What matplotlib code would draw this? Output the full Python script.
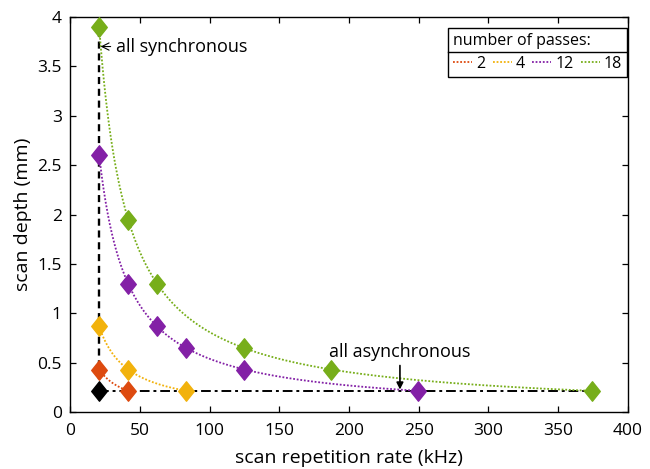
import numpy as np
import matplotlib.pyplot as plt
from matplotlib.path import Path
from matplotlib.lines import Line2D

plt.rcParams['font.family'] = ['Open Sans', 'DejaVu Sans']

# scan repetition rate (kHz) and scan depth (mm) for each number of passes
rate_2 = [20.8, 41.6]
depth_2 = [0.43, 0.217]
rate_4 = [20.8, 41.6, 83.2]
depth_4 = [0.87, 0.43, 0.217]
rate_12 = [20.8, 41.6, 62.4, 83.2, 124.8, 249.6]
depth_12 = [2.6, 1.3, 0.87, 0.65, 0.43, 0.217]
rate_18 = [20.8, 41.6, 62.4, 124.8, 187.2, 374.4]
depth_18 = [3.9, 1.95, 1.3, 0.65, 0.43, 0.217]
base_rate = 20.8
base_depth = 0.217

passes = ['2', '4', '12', '18']
colors = ['#DD4A0F', '#F2B20C', '#8320A6', '#77AE1A']

diamond = Path([(0, 1), (0.8, 0), (0, -1), (-0.8, 0), (0, 1)],
               [Path.MOVETO, Path.LINETO, Path.LINETO, Path.LINETO, Path.CLOSEPOLY])

fig = plt.figure(figsize=(6.5, 4.69), dpi=100)
ax = fig.add_axes([0.108, 0.121, 0.858, 0.843])

series = [(rate_2, depth_2), (rate_4, depth_4), (rate_12, depth_12), (rate_18, depth_18)]

# black reference lines
ax.plot([base_rate, base_rate], [base_depth, max(depth_18)], color='k', ls=(0, (3, 2)), lw=1.7, zorder=2)
ax.plot([base_rate, max(rate_18)], [base_depth, base_depth], color='k', ls=(0, (5, 2, 1.5, 2)), lw=1.4, zorder=2)

handles = []
for (x, y), c, lab in zip(series, colors, passes):
    x = np.array(x)
    y = np.array(y)
    # hyperbolic fit y = a / x through the points
    a = np.mean(x * y)
    xs = np.linspace(x.min(), x.max(), 300)
    h, = ax.plot(xs, a / xs, ls=(0, (1, 1)), color=c, lw=1.3, label=lab, zorder=3)
    handles.append(h)
    ax.plot(x, y, ls='none', marker=diamond, markersize=14, color=c, mec=c, zorder=4)

ax.plot([base_rate], [base_depth], ls='none', marker=diamond, markersize=14, color='k', zorder=5)

ax.annotate('all synchronous', xy=(base_rate + 1, 3.7), xytext=(33, 3.7), fontsize=13,
            va='center', ha='left',
            arrowprops=dict(arrowstyle='->', color='k', lw=0.8, shrinkA=2, shrinkB=0))
ax.annotate('all asynchronous', xy=(236.5, 0.23), xytext=(236.5, 0.515), fontsize=13,
            va='bottom', ha='center',
            arrowprops=dict(arrowstyle='-|>', color='k', lw=1.2, shrinkA=1, shrinkB=0,
                            mutation_scale=10))

ax.set_xlim(0, 400)
ax.set_ylim(0, 4)
ax.set_xticks(np.arange(0, 401, 50))
ax.set_yticks(np.arange(0, 4.01, 0.5))
ax.set_yticklabels(['0', '0.5', '1', '1.5', '2', '2.5', '3', '3.5', '4'])
ax.tick_params(direction='in', top=True, right=True, labelsize=12.5, length=4.5, width=0.9)
ax.tick_params(axis='x', pad=8)
ax.tick_params(axis='y', pad=6)
for s in ax.spines.values():
    s.set_linewidth(1.0)
ax.set_xlabel('scan repetition rate (kHz)', fontsize=14, labelpad=7)
ax.set_ylabel('scan depth (mm)', fontsize=14, labelpad=4)

leg = ax.legend(handles=handles, title='number of passes:', ncol=4, loc='upper right',
                bbox_to_anchor=(0.998, 0.972), fontsize=11.5, title_fontsize=11.5,
                frameon=True, fancybox=False, edgecolor='k', framealpha=1,
                handlelength=1.2, handletextpad=0.25, columnspacing=0.45,
                borderpad=0.3, borderaxespad=0, labelspacing=0.45)
leg.get_frame().set_linewidth(1.0)
leg._legend_box.align = 'left'

fig.canvas.draw()
renderer = fig.canvas.get_renderer()
fb = leg.get_window_extent()
tb = leg._legend_title_box.get_window_extent(renderer)
hb = leg._legend_handle_box.get_window_extent(renderer)
ysep = 0.5 * (tb.y0 + hb.y1)
inv = fig.transFigure.inverted()
(x0, y0) = inv.transform((fb.x0, ysep))
(x1, _) = inv.transform((fb.x1, ysep))
fig.add_artist(Line2D([x0, x1], [y0, y0], color='k', lw=1.0, transform=fig.transFigure))

fig.savefig('out.png', dpi=100)
